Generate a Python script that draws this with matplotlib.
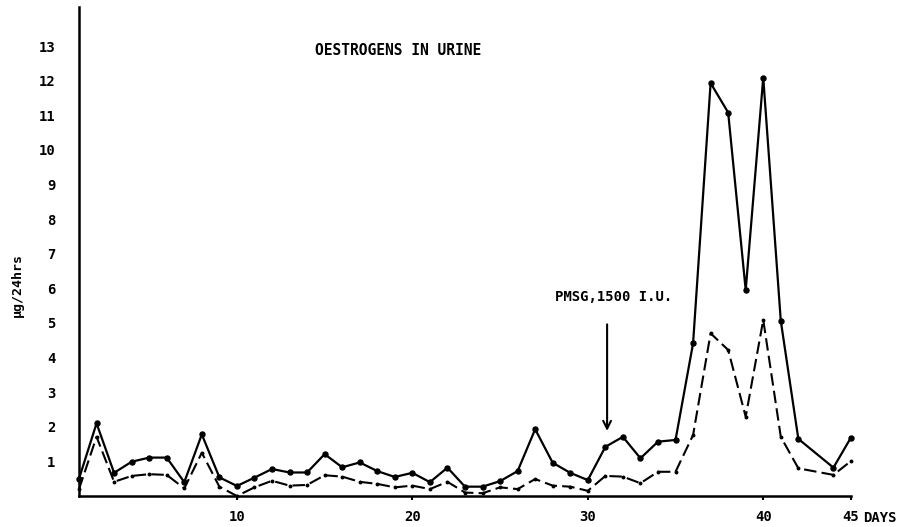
import numpy as np
import matplotlib
matplotlib.use('Agg')
import matplotlib.pyplot as plt

#Data (day 43 has no reading)
days = [1, 2, 3, 4, 5, 6, 7, 8, 9, 10, 11, 12, 13, 14, 15, 16, 17, 18, 19, 20, 21, 22,
        23, 24, 25, 26, 27, 28, 29, 30, 31, 32, 33, 34, 35, 36, 37, 38, 39, 40, 41, 42, 44, 45]
total = [0.5, 2.1, 0.67, 0.99, 1.11, 1.11, 0.4, 1.78, 0.54, 0.29, 0.53, 0.78, 0.68, 0.68,
         1.21, 0.83, 0.97, 0.72, 0.55, 0.67, 0.4, 0.82, 0.27, 0.27, 0.43, 0.72, 1.93, 0.96,
         0.67, 0.46, 1.42, 1.71, 1.09, 1.57, 1.62, 4.41, 11.93, 11.08, 5.95, 12.09, 5.06,
         1.65, 0.82, 1.69]
fraction = [0.2, 1.71, 0.41, 0.58, 0.63, 0.61, 0.22, 1.25, 0.27, 0.0, 0.25, 0.44, 0.3, 0.32,
            0.6, 0.56, 0.41, 0.35, 0.25, 0.3, 0.2, 0.41, 0.1, 0.08, 0.25, 0.2, 0.49, 0.3,
            0.27, 0.15, 0.58, 0.56, 0.37, 0.7, 0.7, 1.76, 4.7, 4.22, 2.29, 5.09, 1.71,
            0.8, 0.61, 1.01]

x_ticks = [10, 20, 30, 40, 45]
y_ticks = list(range(1, 14))

font = 'DejaVu Sans Mono'

fig = plt.figure(figsize=(9.05, 5.27), dpi=100)
ax = fig.add_axes([0.0873, 0.0588, 0.853, 0.928])

ax.plot(days, total, color='black', linewidth=1.6, marker='o', markersize=3.6, clip_on=False)
ax.plot(days, fraction, color='black', linewidth=1.5, linestyle=(0, (6, 2.5)),
        marker='o', markersize=1.8, clip_on=False)

ax.set_xlim(1, 45)
ax.set_ylim(0, 14.13)

for side in ['top', 'right']:
    ax.spines[side].set_visible(False)
for side in ['left', 'bottom']:
    ax.spines[side].set_linewidth(1.8)

ax.set_xticks(x_ticks)
ax.set_xticklabels([str(t) for t in x_ticks], fontfamily=font, fontweight='bold', fontsize=10)
ax.set_yticks(y_ticks)
ax.set_yticklabels([str(t) for t in y_ticks], fontfamily=font, fontweight='bold', fontsize=10)
ax.tick_params(axis='x', length=3, width=1.5, pad=7)
ax.tick_params(axis='y', length=0, pad=17)

#Labels
ax.annotate('DAYS', xy=(45, 0), xycoords='data', xytext=(9, -16), textcoords='offset points',
            fontfamily=font, fontweight='bold', fontsize=10, ha='left', va='center',
            annotation_clip=False)
ax.text(19.2, 12.86, 'OESTROGENS IN URINE', fontfamily=font, fontweight='bold',
        fontsize=10.5, ha='center', va='center')
fig.text(17 / 905, 1 - 285 / 527, 'µg/24hrs', rotation=90, fontfamily=font,
         fontweight='bold', fontsize=9.5, ha='center', va='center')

#PMSG injection arrow
ax.text(31.45, 5.76, 'PMSG,1500 I.U.', fontfamily=font, fontweight='bold', fontsize=10,
        ha='center', va='center')
ax.annotate('', xy=(31.1, 1.8), xytext=(31.1, 5.04),
            arrowprops=dict(arrowstyle='->', color='black', linewidth=1.5,
                            mutation_scale=14))

fig.savefig('out.png', dpi=100)
